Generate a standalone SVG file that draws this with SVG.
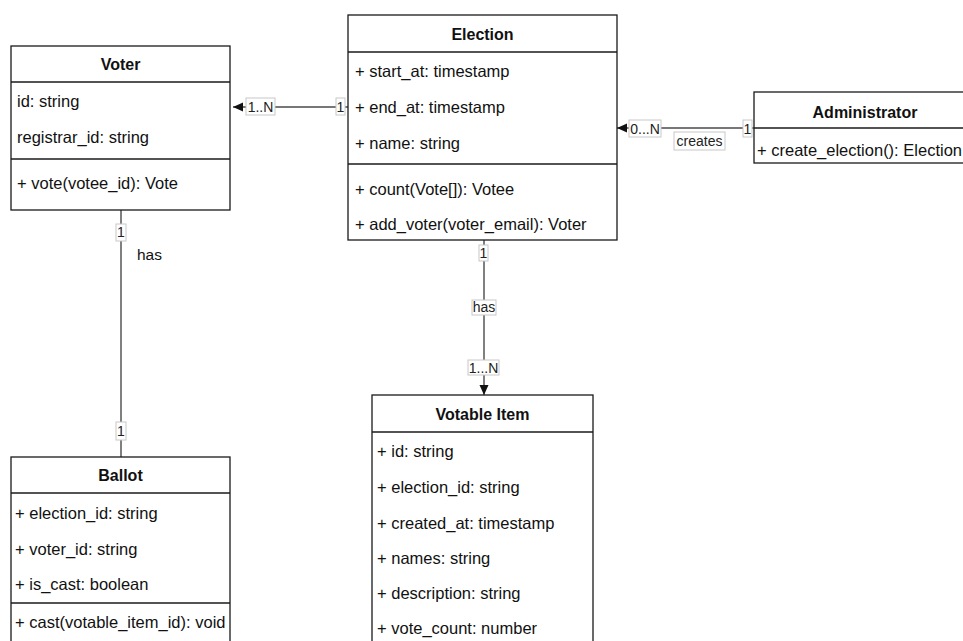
<svg xmlns="http://www.w3.org/2000/svg" width="963" height="641" viewBox="0 0 963 641">
<style>
.box{fill:#fff;stroke:#1a1a1a;stroke-width:1.3}
.div{stroke:#1a1a1a;stroke-width:1.3}
.t{font-family:"Liberation Sans",Arial,sans-serif;font-size:16.5px;fill:#111}
.h{font-family:"Liberation Sans",Arial,sans-serif;font-size:16px;font-weight:bold;fill:#111;text-anchor:middle}
.c{stroke:#4a4a4a;stroke-width:1.4;fill:none}
.lb{fill:#fff;stroke:#c8c8c8;stroke-width:1}
.l{font-family:"Liberation Sans",Arial,sans-serif;font-size:14px;fill:#222;text-anchor:middle}
</style>
<defs>
<marker id="arr" markerUnits="userSpaceOnUse" markerWidth="12" markerHeight="10" refX="10" refY="5" orient="auto">
<path d="M0,0.5 L10,5 L0,9.5 Z" fill="#111"/>
</marker>
</defs>
<rect width="963" height="641" fill="#fff"/>

<g id="connectors">
<line class="c" x1="348" y1="107" x2="233" y2="107" marker-end="url(#arr)"/>
<line class="c" x1="754" y1="128" x2="617" y2="128" marker-end="url(#arr)"/>
<line class="c" x1="484" y1="240" x2="484" y2="395" marker-end="url(#arr)"/>
<line class="c" x1="121" y1="210" x2="121" y2="457"/>
<rect class="lb" x="246" y="98" width="29" height="17"/><text class="l" x="260.5" y="111.5">1..N</text>
<rect class="lb" x="336" y="98" width="9" height="17"/><text class="l" x="340.5" y="111.5">1</text>
<rect class="lb" x="629" y="120" width="32" height="17"/><text class="l" x="645" y="133.5">0...N</text>
<rect class="lb" x="674" y="132" width="51" height="18"/><text class="l" x="699.5" y="146">creates</text>
<rect class="lb" x="743" y="120" width="9" height="17"/><text class="l" x="747.5" y="133.5">1</text>
<rect class="lb" x="479" y="245" width="9" height="16"/><text class="l" x="483.5" y="258">1</text>
<rect class="lb" x="472" y="300" width="24" height="15"/><text class="l" x="484" y="312">has</text>
<rect class="lb" x="468" y="360" width="31" height="15"/><text class="l" x="483.5" y="372.5">1...N</text>
<rect class="lb" x="116" y="224" width="10" height="17"/><text class="l" x="121" y="237">1</text>
<rect class="lb" x="116" y="422" width="10" height="18"/><text class="l" x="121" y="435.5">1</text>
<text class="t" x="137" y="260" style="font-size:15.5px">has</text>
</g>

<g id="voter">
<rect class="box" x="11" y="46" width="219" height="164"/>
<line class="div" x1="11" y1="82" x2="230" y2="82"/>
<line class="div" x1="11" y1="159" x2="230" y2="159"/>
<text class="h" x="120.5" y="70">Voter</text>
<text class="t" x="17" y="106.5">id: string</text>
<text class="t" x="17" y="142.5">registrar_id: string</text>
<text class="t" x="17" y="188.5">+ vote(votee_id): Vote</text>
</g>

<g id="election">
<rect class="box" x="348" y="15" width="269" height="225"/>
<line class="div" x1="348" y1="52" x2="617" y2="52"/>
<line class="div" x1="348" y1="164" x2="617" y2="164"/>
<text class="h" x="482.5" y="40">Election</text>
<text class="t" x="355" y="76.5">+ start_at: timestamp</text>
<text class="t" x="355" y="112.5">+ end_at: timestamp</text>
<text class="t" x="355" y="148.5">+ name: string</text>
<text class="t" x="355" y="194.5">+ count(Vote[]): Votee</text>
<text class="t" x="355" y="229.5">+ add_voter(voter_email): Voter</text>
</g>

<g id="administrator">
<rect class="box" x="754" y="92" width="222" height="71"/>
<line class="div" x1="754" y1="128" x2="976" y2="128"/>
<text class="h" x="865" y="117.5">Administrator</text>
<text class="t" x="757" y="155.5">+ create_election(): Election</text>
</g>

<g id="ballot">
<rect class="box" x="11" y="457" width="219" height="200"/>
<line class="div" x1="11" y1="493" x2="230" y2="493"/>
<line class="div" x1="11" y1="603" x2="230" y2="603"/>
<text class="h" x="120.5" y="481">Ballot</text>
<text class="t" x="15" y="518.5">+ election_id: string</text>
<text class="t" x="15" y="554.5">+ voter_id: string</text>
<text class="t" x="15" y="589.5">+ is_cast: boolean</text>
<text class="t" x="15" y="627.5">+ cast(votable_item_id): void</text>
</g>

<g id="votable-item">
<rect class="box" x="372" y="395" width="221" height="260"/>
<line class="div" x1="372" y1="432" x2="593" y2="432"/>
<text class="h" x="482.5" y="419.5">Votable Item</text>
<text class="t" x="377" y="456.5">+ id: string</text>
<text class="t" x="377" y="492.5">+ election_id: string</text>
<text class="t" x="377" y="528.5">+ created_at: timestamp</text>
<text class="t" x="377" y="563.5">+ names: string</text>
<text class="t" x="377" y="598.5">+ description: string</text>
<text class="t" x="377" y="633.5">+ vote_count: number</text>
</g>
</svg>
